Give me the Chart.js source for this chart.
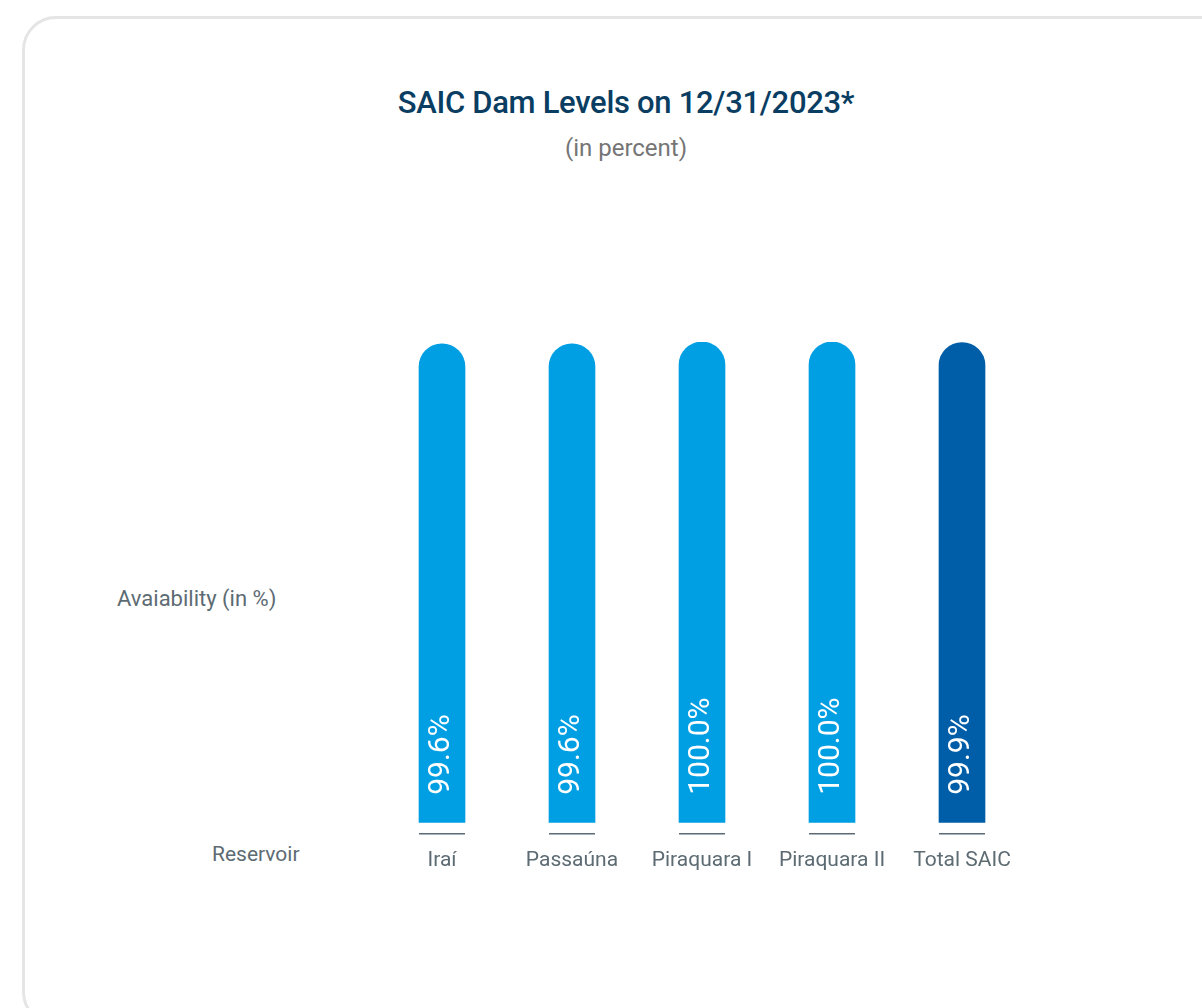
<!DOCTYPE html>
<html>
<head>
<meta charset="utf-8">
<script src="https://cdn.jsdelivr.net/npm/chart.js@4"></script>
<style>
  html,body{margin:0;padding:0;background:#fff;width:1202px;height:1008px;overflow:hidden;font-family:Roboto,"Noto Sans",sans-serif;}
  .card{position:absolute;left:22px;top:16px;width:1240px;height:1010px;border:3px solid #e5e5e5;border-radius:34px;box-sizing:border-box;}
  .title{position:absolute;left:0;width:1252px;top:84px;text-align:center;font-size:31px;font-weight:500;color:#0a3d62;letter-spacing:-0.3px;}
  .sub{position:absolute;left:0;width:1252px;top:134px;text-align:center;font-size:24px;color:#757575;}
  .side{position:absolute;font-size:21px;color:#5d6b73;}
  #wrap{position:absolute;left:0;top:0;width:1202px;height:1008px;}
</style>
</head>
<body>
<div class="card"></div>
<div class="title">SAIC Dam Levels on 12/31/2023*</div>
<div class="sub">(in percent)</div>
<div class="side" style="left:117px;top:586px;font-size:22px;">Avaiability (in %)</div>
<div class="side" style="left:212px;top:842px;">Reservoir</div>
<div id="wrap"><canvas id="c" width="1202" height="1008"></canvas></div>
<script>
/* ---------- DATA ---------- */
const reservoirs = ['Iraí','Passaúna','Piraquara I','Piraquara II','Total SAIC'];
const levels     = [99.6, 99.6, 100.0, 100.0, 99.9];
const barColors  = ['#009fe3','#009fe3','#009fe3','#009fe3','#005ea8'];

const $ = id => document.getElementById(id);

/* ---------- PLUGINS ---------- */
// rotated value label inside each bar + thin rule under it
const barDecor = {
  id:'barDecor',
  afterDatasetsDraw(chart){
    const {ctx} = chart;
    chart.getDatasetMeta(0).data.forEach((bar,i)=>{
      const half = bar.width/2;
      ctx.save();
      ctx.strokeStyle = '#5b6b77';
      ctx.lineWidth = 1.5;
      ctx.beginPath();
      ctx.moveTo(bar.x-half, bar.base+11);
      ctx.lineTo(bar.x+half, bar.base+11);
      ctx.stroke();
      ctx.translate(bar.x-1, bar.base-28);
      ctx.rotate(-Math.PI/2);
      ctx.fillStyle = '#fff';
      ctx.font = '400 30px Roboto';
      ctx.textAlign = 'left';
      ctx.textBaseline = 'middle';
      ctx.fillText(levels[i].toFixed(1)+'%', 0, 0);
      ctx.restore();
    });
  }
};

/* ---------- CHART ---------- */
new Chart($('c').getContext('2d'),{
  type:'bar',
  data:{
    labels:reservoirs,
    datasets:[{
      data:levels,
      backgroundColor:barColors,
      borderRadius:{topLeft:23,topRight:23,bottomLeft:0,bottomRight:0},
      borderSkipped:'bottom',
      barThickness:46
    }]
  },
  options:{
    responsive:false,
    animation:false,
    layout:{padding:{left:377,right:175,top:342,bottom:118}},
    plugins:{legend:{display:false},tooltip:{enabled:false}},
    scales:{
      x:{
        grid:{display:false},border:{display:false},
        ticks:{color:'#5d6b73',font:{family:'Roboto',size:21},padding:17,maxRotation:0}
      },
      y:{display:false,min:0,max:100}
    }
  },
  plugins:[barDecor]
});
</script>
</body>
</html>
